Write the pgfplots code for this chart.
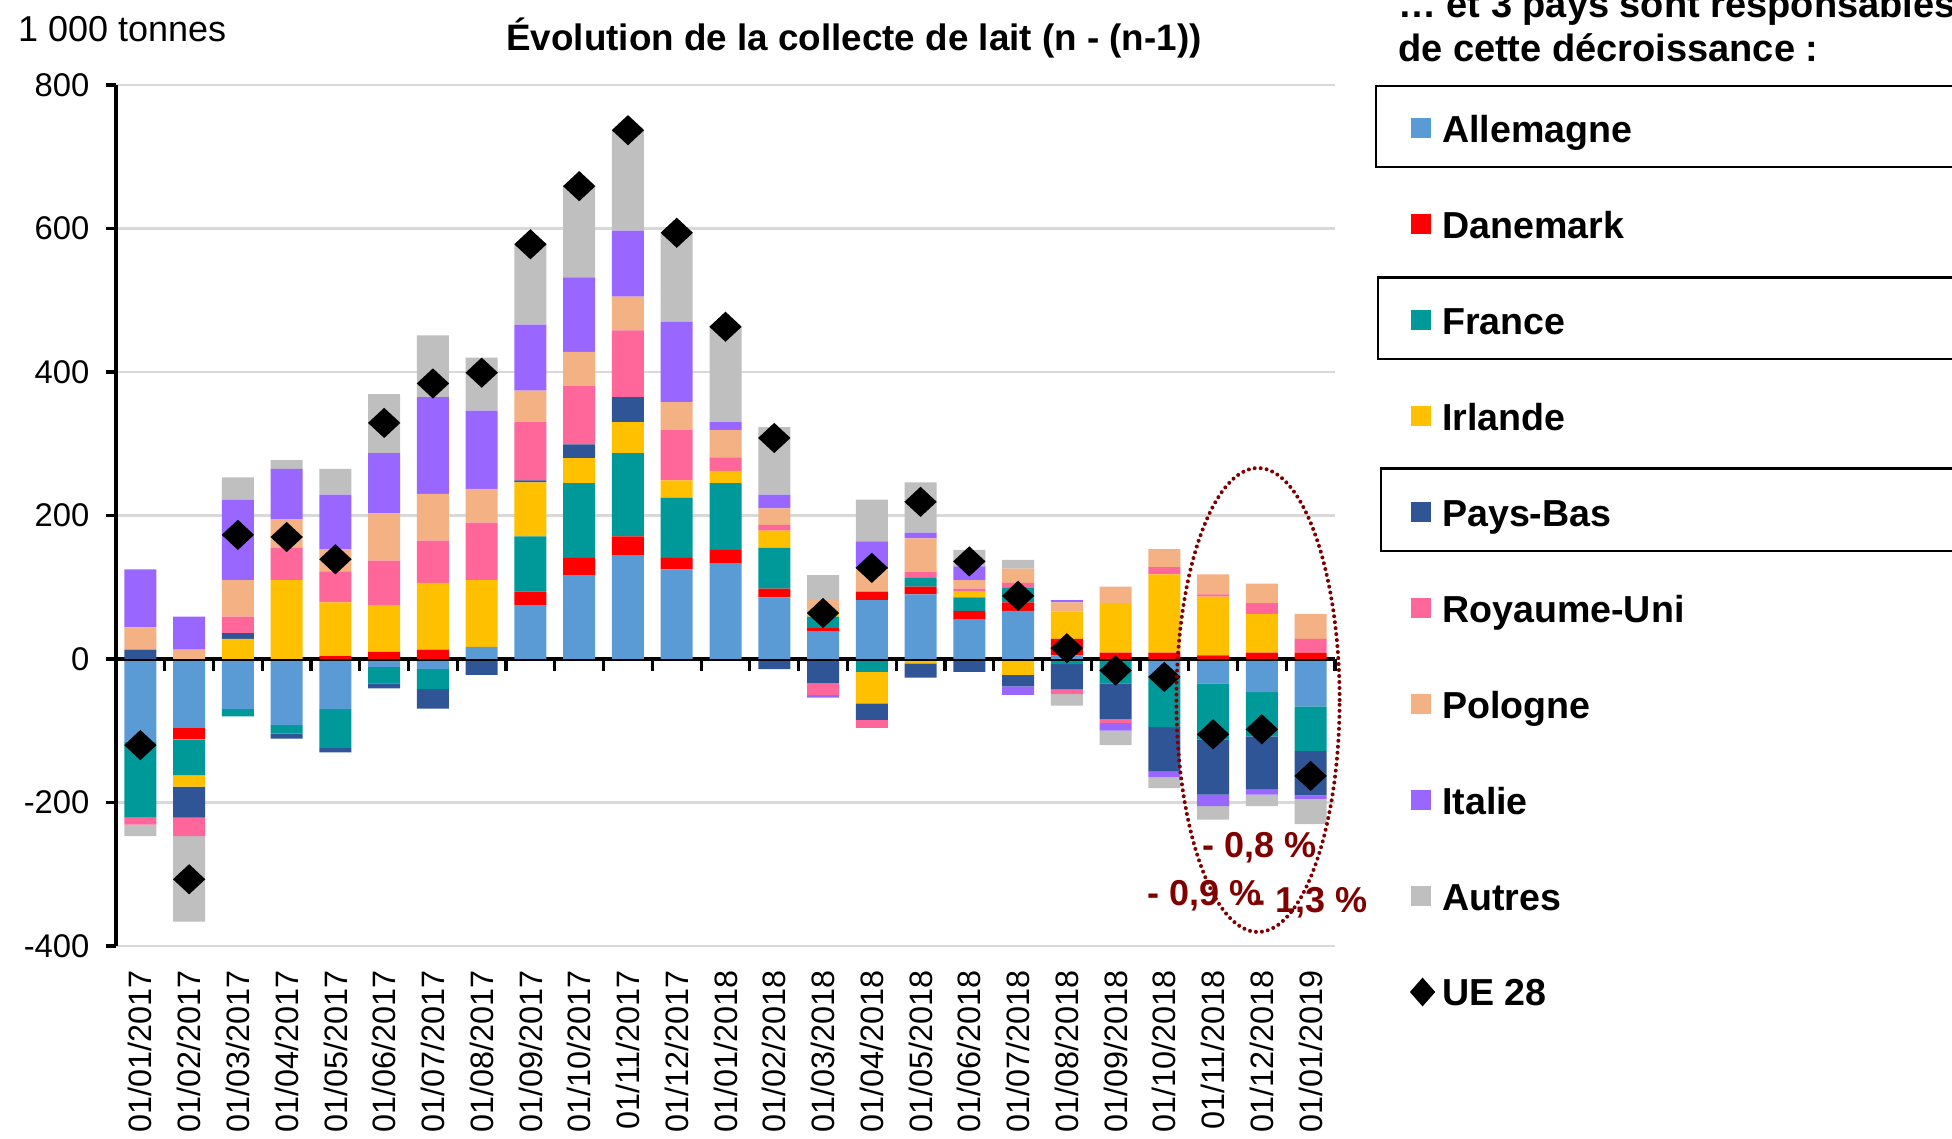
\documentclass[border=0pt]{standalone}
\usepackage{fontspec}
\setmainfont{Liberation Sans}
\usepackage{pgfplots}
\usepackage{pgfplotstable}
\pgfplotsset{compat=1.18}

\definecolor{cAll}{HTML}{5B9BD5}
\definecolor{cDan}{HTML}{FF0000}
\definecolor{cFra}{HTML}{009999}
\definecolor{cIrl}{HTML}{FFC000}
\definecolor{cPB}{HTML}{2F5597}
\definecolor{cRU}{HTML}{FF6699}
\definecolor{cPol}{HTML}{F4B183}
\definecolor{cIta}{HTML}{9966FF}
\definecolor{cAut}{HTML}{BFBFBF}
\definecolor{darkred}{HTML}{800000}
\definecolor{gridgray}{HTML}{D9D9D9}

% positive parts of each month (1000 t)
\pgfplotstableread{
x  All Dan Fra Irl PB RU Pol Ita Aut
0  0   0   0   0   13 0  31  81  0
1  0   0   0   0   0  0  13  46  0
2  0   0   0   28  8  23 51  112 31
3  0   0   0   110 0  45 40  70  12
4  0   4   0   75  0  43 31  76  36
5  0   10  0   65  0  62 66  84  82
6  0   13  0   93  0  59 65  135 86
7  17  0   0   93  0  80 47  109 74
8  75  19  77  75  3  81 44  92  111
9  117 24  104 35  19 82 47  104 127
10 144 27  116 43  35 93 47  92  139
11 125 16  84  24  0  70 39  112 123
12 133 19  93  17  0  19 38  11  133
13 86  12  57  24  0  8  23  19  94
14 39  4   16  7   0  0  16  0   35
15 82  12  0   0   0  0  31  39  58
16 90  11  12  0   0  8  47  8   70
17 55  12  19  8   0  4  12  19  23
18 67  12  20  0   0  7  20  0   12
19 5   23  0   38  0  0  13  3   0
20 0   9   0   69  0  0  23  0   0
21 0   9   0   109 0  10 25  0   0
22 0   5   0   82  0  3  28  0   0
23 0   9   0   54  0  15 27  0   0
24 0   9   0   0   0  19 35  0   0
}\pos

% negative parts
\pgfplotstableread{
x  All  Dan Fra  Irl PB  RU  Pol Ita Aut
0  -116 0   -105 0   0   -10 0   0   -16
1  -96  -16 -50  -16 -43 -26 0   0   -119
2  -70  0   -10  0   0   0   0   0   0
3  -92  0   -12  0   -7  0   0   0   0
4  -70  0   -54  0   -6  0   0   0   0
5  -11  0   -23  0   -7  0   0   0   0
6  -14  0   -28  0   -27 0   0   0   0
7  0    0   0    0   -22 0   0   0   0
8  0    0   0    0   0   0   0   0   0
9  0    0   0    0   0   0   0   0   0
10 0    0   0    0   0   0   0   0   0
11 0    0   0    0   0   0   0   0   0
12 0    0   0    0   0   0   0   0   0
13 0    0   0    0   -14 0   0   0   0
14 0    0   0    0   -34 -16 0   -4  0
15 0    0   -18  -44 -23 -11 0   0   0
16 0    0   0    -6  -20 0   0   0   0
17 0    0   0    0   -18 0   0   0   0
18 0    0   0    -22 -16 0   0   -12 0
19 0    0   -7   0   -35 -7  0   0   -16
20 0    0   -34  0   -50 -5  0   -11 -20
21 -25  0   -70  0   -62 0   0   -8  -15
22 -34  0   -78  0   -77 0   0   -16 -19
23 -46  0   -62  0   -74 0   0   -7  -16
24 -66  0   -62  0   -62 0   0   -5  -35
}\neg

% UE 28 total
\pgfplotstableread{
x UE
0 -120
1 -307
2 173
3 170
4 139
5 329
6 384
7 399
8 578
9 659
10 737
11 594
12 463
13 308
14 64
15 127
16 219
17 136
18 88
19 15
20 -16
21 -25
22 -105
23 -98
24 -163
}\ue

\pgfplotsset{
  base/.style={scale only axis, width=304.75pt, height=215.25pt,
    at={(29pt,48pt)}, anchor=south west,
    xmin=-0.5, xmax=24.5, ymin=-400, ymax=800, enlargelimits=false, clip=false},
  sq/.style={fill=#1, draw=none,
    legend image code/.code={\fill[#1] (0pt,-2.5pt) rectangle (5pt,2.5pt);}},
}

\begin{document}
\begin{tikzpicture}
\useasboundingbox (0,0) rectangle (488pt,284.5pt);

% axis frame, grid, labels and negative parts
\begin{axis}[base, ybar stacked, bar width=8pt,
  axis x line*=bottom, axis y line*=left,
  x axis line style={draw=none},
  y axis line style={line width=0.8pt},
  ytick={-400,-200,...,800},
  yticklabels={-400,-200,0,200,400,600,800},
  ymajorgrids, major grid style={gridgray, line width=0.6pt},
  tick align=outside, major tick length=2.5pt,
  ytick style={black, line width=0.8pt},
  yticklabel style={font=\fontsize{8.2}{9}\selectfont, xshift=-0.6pt},
  xtick={0,...,24}, xtick style={draw=none},
  xticklabels={01/01/2017,01/02/2017,01/03/2017,01/04/2017,01/05/2017,01/06/2017,
    01/07/2017,01/08/2017,01/09/2017,01/10/2017,01/11/2017,01/12/2017,
    01/01/2018,01/02/2018,01/03/2018,01/04/2018,01/05/2018,01/06/2018,
    01/07/2018,01/08/2018,01/09/2018,01/10/2018,01/11/2018,01/12/2018,01/01/2019},
  xticklabel style={rotate=90, anchor=east, font=\fontsize{8.1}{9}\selectfont},
]
\addplot[sq=cAll] table[x=x,y=All]{\neg};
\addplot[sq=cDan] table[x=x,y=Dan]{\neg};
\addplot[sq=cFra] table[x=x,y=Fra]{\neg};
\addplot[sq=cIrl] table[x=x,y=Irl]{\neg};
\addplot[sq=cPB] table[x=x,y=PB]{\neg};
\addplot[sq=cRU] table[x=x,y=RU]{\neg};
\addplot[sq=cPol] table[x=x,y=Pol]{\neg};
\addplot[sq=cIta] table[x=x,y=Ita]{\neg};
\addplot[sq=cAut] table[x=x,y=Aut]{\neg};
\end{axis}

% positive parts and legend
\begin{axis}[base, hide axis, ybar stacked, bar width=8pt,
  legend cell align=left,
  legend style={at={(1.061,0.4483)}, anchor=west, draw=none, fill=none,
    inner sep=0pt, row sep=17pt, column sep=1.8pt,
    font=\bfseries\fontsize{9.4}{11}\selectfont,
    nodes={inner sep=0pt, text height=7pt, text depth=0pt}},
]
\addplot[sq=cAll] table[x=x,y=All]{\pos}; \addlegendentry{Allemagne}
\addplot[sq=cDan] table[x=x,y=Dan]{\pos}; \addlegendentry{Danemark}
\addplot[sq=cFra] table[x=x,y=Fra]{\pos}; \addlegendentry{France}
\addplot[sq=cIrl] table[x=x,y=Irl]{\pos}; \addlegendentry{Irlande}
\addplot[sq=cPB] table[x=x,y=PB]{\pos}; \addlegendentry{Pays-Bas}
\addplot[sq=cRU] table[x=x,y=RU]{\pos}; \addlegendentry{Royaume-Uni}
\addplot[sq=cPol] table[x=x,y=Pol]{\pos}; \addlegendentry{Pologne}
\addplot[sq=cIta] table[x=x,y=Ita]{\pos}; \addlegendentry{Italie}
\addplot[sq=cAut] table[x=x,y=Aut]{\pos}; \addlegendentry{Autres}
\addlegendimage{legend image code/.code={\fill[black] (2.9pt,3.3pt) -- (5.8pt,0pt) -- (2.9pt,-3.3pt) -- (0pt,0pt) -- cycle;}}
\addlegendentry{UE 28}
\draw[line width=0.8pt] (axis cs:-0.5,0) -- (axis cs:24.5,0);
\pgfplotsinvokeforeach{0,...,24}{\draw[line width=0.8pt] (axis cs:#1.5,0) -- ++(0pt,-3pt);}
\end{axis}

% UE 28 markers
\begin{axis}[base, hide axis]
\addplot[only marks, mark=diamond*, mark size=3.5pt,
  mark options={fill=black, draw=black, xscale=1.43}] table[x=x,y=UE]{\ue};
\end{axis}

% titles and notes
\node[anchor=base west, font=\fontsize{9}{11}\selectfont] at (1pt,274.2pt) {1 000 tonnes};
\node[font=\bfseries\fontsize{9.2}{10}\selectfont] at (213.5pt,275pt) {Évolution de la collecte de lait (n - (n-1))};
\node[anchor=base west, font=\bfseries\fontsize{9.5}{11}\selectfont] at (346pt,280.2pt) {… et 3 pays sont responsables};
\node[anchor=base west, font=\bfseries\fontsize{9.5}{11}\selectfont] at (346pt,269.2pt) {de cette décroissance :};

\draw[line width=0.6pt] (344pt,242.75pt) rectangle (500pt,263pt);
\draw[line width=0.6pt] (344.5pt,194.75pt) rectangle (500pt,215.1pt);
\draw[line width=0.6pt] (345.25pt,146.75pt) rectangle (500pt,167.35pt);

\draw[darkred, line width=1pt, line cap=round, dash pattern=on 0pt off 1.5pt]
  (314.5pt,109.5pt) ellipse [x radius=20.4pt, y radius=58pt];
\begin{scope}[every node/.style={anchor=base, text=darkred, font=\bfseries\fontsize{9}{11}\selectfont}]
\node at (315pt,70.2pt) {- 0,8 \%};
\node at (301.1pt,58.05pt) {- 0,9 \%};
\node at (327.75pt,56.3pt) {- 1,3 \%};
\end{scope}
\end{tikzpicture}
\end{document}
